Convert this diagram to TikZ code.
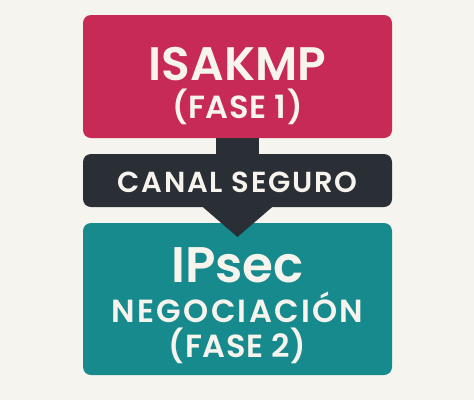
\documentclass[tikz,border=0pt]{standalone}
\usepackage{fontspec}
\usepackage{xcolor}
\setmainfont{Poppins}[BoldFont={Poppins SemiBold}]
\definecolor{bgcol}{HTML}{F5F4EF}
\definecolor{crimson}{HTML}{C72A55}
\definecolor{slate}{HTML}{2A2E35}
\definecolor{teal}{HTML}{178A8E}
\definecolor{txt}{HTML}{F6F4EC}
\tikzstyle{phase}=[rectangle,rounded corners=8pt,minimum width=309pt,inner sep=0pt,text=txt,align=center,
  font={\bfseries\baselineskip=0pt\lineskiplimit=-200pt}]
\newcommand{\hs}[1]{\rule{0pt}{#1pt}}
\newcommand{\ds}{\rule[-8pt]{0pt}{8pt}}
\newcommand{\sub}[1]{\fontsize{32}{32}\selectfont\addfontfeature{LetterSpace=#1}}

\begin{document}
\begin{tikzpicture}[x=1pt,y=-1pt]
      \fill [bgcol] (0,0) rectangle (474,400);
      \node [phase,fill=crimson,minimum height=123pt] (isakmp) at (237.5,76.5)
        {\hs{53}\fontsize{47}{47}\selectfont ISAKMP\\[38pt]\sub{2}(FASE 1)\ds};
      \node [phase,fill=slate,minimum height=53pt] (canal) at (237.5,180.5)
        {\hs{31}\fontsize{29}{29}\selectfont\addfontfeature{LetterSpace=6}CANAL SEGURO\ds};
      \node [phase,fill=teal,minimum height=152pt] (ipsec) at (237.5,299)
        {\hs{49}\fontsize{50}{50}\selectfont IPsec\\[40pt]\sub{7}NEGOCIACIÓN\\[35pt]\sub{2}(FASE 2)\ds};
      \draw [slate,line width=43pt] (isakmp.south) -- (canal.north);
      \coordinate (tip) at (237.5,237);
      \fill [slate] ([xshift=-34.5pt]canal.south) -- ([xshift=34.5pt]canal.south) -- (tip) -- cycle;
\end{tikzpicture}
\end{document}
